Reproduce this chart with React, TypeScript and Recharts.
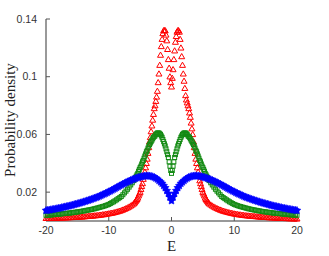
import React from 'react';
import { ScatterChart, Scatter, XAxis, YAxis, Label } from 'recharts';

const E_ABS = [
  0, 0.25, 0.5, 0.75, 1, 1.25, 1.5, 1.75, 2, 2.25, 2.5, 2.75, 3, 3.25, 3.5, 3.75,
  4, 4.25, 4.5, 4.75, 5, 5.25, 5.5, 5.75, 6, 6.25, 6.5, 6.75, 7, 7.25, 7.5, 7.75,
  8, 8.25, 8.5, 8.75, 9, 9.25, 9.5, 9.75, 10, 10.25, 10.5, 10.75, 11, 11.25, 11.5, 11.75,
  12, 12.25, 12.5, 12.75, 13, 13.25, 13.5, 13.75, 14, 14.25, 14.5, 14.75, 15, 15.25, 15.5, 15.75,
  16, 16.25, 16.5, 16.75, 17, 17.25, 17.5, 17.75, 18, 18.25, 18.5, 18.75, 19, 19.25, 19.5, 19.75, 20,
];

// extra samples between grid points where the peaks are dense
const E_MID = [
  0.125, 0.375, 0.625, 0.875, 1.125, 1.375, 1.625, 1.875, 2.125, 2.375, 2.625, 2.875,
  3.125, 3.375, 3.625, 3.875, 4.125, 4.375, 4.625, 4.875, 5.125, 5.375, 5.625, 5.875,
];

// red triangles, E >= 0
const RED_POS = [
  0.093, 0.105, 0.118, 0.128, 0.132, 0.131, 0.120, 0.108, 0.097, 0.087, 0.082, 0.078, 0.072, 0.064, 0.055, 0.047,
  0.040, 0.034, 0.028, 0.024, 0.020, 0.0175, 0.015, 0.0135, 0.012, 0.0112, 0.0105, 0.0098, 0.0092, 0.0087, 0.0082, 0.0077,
  0.0073, 0.0069, 0.0066, 0.0063, 0.0060, 0.0057, 0.0055, 0.0052, 0.0050, 0.0048, 0.0046, 0.0044, 0.0043, 0.0041, 0.0040, 0.0038,
  0.0037, 0.0036, 0.0035, 0.0034, 0.0033, 0.0032, 0.0031, 0.0030, 0.0029, 0.0028, 0.0027, 0.0027, 0.0026, 0.0025, 0.0024, 0.0024,
  0.0023, 0.0023, 0.0022, 0.0021, 0.0021, 0.0020, 0.0020, 0.0019, 0.0019, 0.0018, 0.0018, 0.0017, 0.0017, 0.0017, 0.0016, 0.0016, 0.0015,
];

// red triangles, E <= 0 (same |E| order)
const RED_NEG = [
  0.093, 0.100, 0.112, 0.125, 0.132, 0.132, 0.126, 0.115, 0.102, 0.090, 0.083, 0.078, 0.070, 0.062, 0.055, 0.047,
  0.040, 0.034, 0.029, 0.024, 0.020, 0.0175, 0.015, 0.0135, 0.012, 0.0112, 0.0105, 0.0098, 0.0092, 0.0087, 0.0082, 0.0077,
  0.0073, 0.0069, 0.0066, 0.0063, 0.0060, 0.0057, 0.0055, 0.0053, 0.0051, 0.0049, 0.0047, 0.0045, 0.0044, 0.0042, 0.0041, 0.0039,
  0.0038, 0.0037, 0.0036, 0.0035, 0.0034, 0.0033, 0.0032, 0.0031, 0.0030, 0.0029, 0.0029, 0.0028, 0.0027, 0.0027, 0.0026, 0.0025,
  0.0025, 0.0024, 0.0024, 0.0023, 0.0023, 0.0022, 0.0022, 0.0021, 0.0021, 0.0021, 0.0020, 0.0020, 0.0020, 0.0019, 0.0019, 0.0019, 0.0019,
];

const RED_MID_POS = [
  0.099, 0.112, 0.124, 0.131, 0.132, 0.126, 0.114, 0.102, 0.092, 0.084, 0.080, 0.075,
  0.068, 0.060, 0.051, 0.043, 0.037, 0.031, 0.026, 0.022, 0.0188, 0.016, 0.0142, 0.0127,
];
const RED_MID_NEG = [
  0.096, 0.106, 0.119, 0.129, 0.132, 0.130, 0.121, 0.108, 0.096, 0.086, 0.080, 0.074,
  0.066, 0.058, 0.051, 0.043, 0.037, 0.031, 0.026, 0.022, 0.0188, 0.016, 0.0142, 0.0127,
];

// green squares (symmetric)
const GREEN = [
  0.033, 0.038, 0.044, 0.048, 0.052, 0.055, 0.058, 0.060, 0.061, 0.061, 0.060, 0.0585, 0.057, 0.055, 0.053, 0.0505,
  0.048, 0.045, 0.042, 0.0395, 0.037, 0.0345, 0.032, 0.030, 0.028, 0.0265, 0.0250, 0.0235, 0.0220, 0.0207, 0.0195, 0.0182,
  0.0170, 0.0162, 0.0155, 0.0147, 0.0140, 0.0133, 0.0127, 0.0121, 0.0115, 0.0111, 0.0107, 0.0103, 0.0100, 0.0097, 0.0094, 0.0091,
  0.0088, 0.0085, 0.0083, 0.0080, 0.0078, 0.0076, 0.0074, 0.0072, 0.0070, 0.0068, 0.0066, 0.0064, 0.0063, 0.0061, 0.0060, 0.0058,
  0.0057, 0.0055, 0.0054, 0.0053, 0.0052, 0.0051, 0.0050, 0.0048, 0.0047, 0.0046, 0.0045, 0.0044, 0.0043, 0.0042, 0.0041, 0.0040, 0.0040,
];

const GREEN_MID = [
  0.035, 0.041, 0.046, 0.050, 0.0535, 0.0565, 0.059, 0.0605, 0.061, 0.0605, 0.059, 0.058,
  0.056, 0.054, 0.052, 0.049, 0.0465, 0.0435, 0.041, 0.038, 0.0358, 0.033, 0.031, 0.029,
];

// blue stars (symmetric)
const BLUE = [
  0.0140, 0.0165, 0.0190, 0.0210, 0.0230, 0.0245, 0.0260, 0.0270, 0.0280, 0.0290, 0.0297, 0.0303, 0.0307, 0.0310, 0.0312, 0.0313,
  0.0313, 0.0312, 0.0310, 0.0308, 0.0305, 0.0302, 0.0299, 0.0295, 0.0291, 0.0287, 0.0282, 0.0277, 0.0272, 0.0267, 0.0261, 0.0256,
  0.0250, 0.0244, 0.0238, 0.0232, 0.0226, 0.0220, 0.0214, 0.0208, 0.0203, 0.0197, 0.0192, 0.0187, 0.0182, 0.0177, 0.0172, 0.0167,
  0.0163, 0.0159, 0.0155, 0.0151, 0.0147, 0.0143, 0.0140, 0.0136, 0.0133, 0.0129, 0.0126, 0.0123, 0.0120, 0.0117, 0.0114, 0.0111,
  0.0108, 0.0105, 0.0103, 0.0100, 0.0098, 0.0095, 0.0093, 0.0090, 0.0088, 0.0086, 0.0084, 0.0082, 0.0080, 0.0078, 0.0076, 0.0074, 0.0073,
];

const X_TICKS = [-20, -10, 0, 10, 20];
const Y_TICKS = [0.02, 0.06, 0.1, 0.14];

const toPoints = (pos: number[], neg: number[]) => [
  ...E_ABS.slice(1).map((e, i) => ({ e: -e, p: neg[i + 1] })).reverse(),
  ...E_ABS.map((e, i) => ({ e, p: pos[i] })),
];
const midPoints = (pos: number[], neg: number[]) => [
  ...E_MID.map((e, i) => ({ e: -e, p: neg[i] })),
  ...E_MID.map((e, i) => ({ e, p: pos[i] })),
];

const redData = [...toPoints(RED_POS, RED_NEG), ...midPoints(RED_MID_POS, RED_MID_NEG)];
const greenData = [...toPoints(GREEN, GREEN), ...midPoints(GREEN_MID, GREEN_MID)];
const blueData = toPoints(BLUE, BLUE);

const tickFont = { fontFamily: '"Liberation Sans", Arial, sans-serif', fontSize: 10.5, fill: '#333' };
const labelFont = '"Liberation Serif", "Times New Roman", serif';

const Triangle = ({ cx, cy }: any) => (
  <path d={`M${cx},${cy - 3}L${cx + 3},${cy + 2.2}L${cx - 3},${cy + 2.2}Z`} fill="none" stroke="#ff0000" strokeWidth={1} />
);

const Square = ({ cx, cy }: any) => (
  <rect x={cx - 2} y={cy - 2} width={4} height={4} fill="none" stroke="#138a13" strokeWidth={1} />
);

const Star = ({ cx, cy }: any) => {
  const pts: string[] = [];
  for (let k = 0; k < 10; k++) {
    const r = k % 2 === 0 ? 4 : 2.1;
    const a = -Math.PI / 2 + (k * Math.PI) / 5;
    pts.push(`${cx + r * Math.cos(a)},${cy + r * Math.sin(a)}`);
  }
  return <polygon points={pts.join(' ')} fill="#0000ff" stroke="#0000ff" strokeWidth={0.6} />;
};

const Nothing = () => <g />;

export default function App() {
  return (
    <div style={{ position: 'absolute', left: 0, top: 0, background: '#fff' }}>
      <ScatterChart width={329} height={256} margin={{ top: 19, right: 32, bottom: 0, left: 6 }}>
        <XAxis
          dataKey="e"
          type="number"
          domain={[-20, 20]}
          ticks={X_TICKS}
          height={35}
          tickSize={-4}
          tickMargin={10}
          tick={tickFont}
          axisLine={{ stroke: '#999', strokeWidth: 2 }}
          tickLine={{ stroke: '#555' }}
        >
          <Label
            content={({ viewBox }: any) => (
              <text x={viewBox.x + viewBox.width / 2} y={251} textAnchor="middle" fontFamily={labelFont} fontSize={15} fill="#222">
                E
              </text>
            )}
          />
        </XAxis>
        <XAxis
          xAxisId="top"
          dataKey="e"
          orientation="top"
          type="number"
          domain={[-20, 20]}
          ticks={X_TICKS}
          height={0}
          tickSize={-4}
          tick={false}
          axisLine={{ stroke: '#555' }}
          tickLine={{ stroke: '#555' }}
        />
        <YAxis
          dataKey="p"
          type="number"
          domain={[0, 0.14]}
          ticks={Y_TICKS}
          width={40}
          tickSize={-4}
          tickMargin={13}
          tick={tickFont}
          axisLine={{ stroke: '#999', strokeWidth: 2 }}
          tickLine={{ stroke: '#555' }}
        >
          <Label
            content={({ viewBox }: any) => {
              const cx = 10;
              const cy = viewBox.y + viewBox.height / 2;
              return (
                <text
                  x={cx}
                  y={cy}
                  transform={`rotate(-90 ${cx} ${cy})`}
                  textAnchor="middle"
                  dominantBaseline="central"
                  fontFamily={labelFont}
                  fontSize={15}
                  fill="#222"
                >
                  Probability density
                </text>
              );
            }}
          />
        </YAxis>
        <YAxis
          yAxisId="right"
          dataKey="p"
          orientation="right"
          type="number"
          domain={[0, 0.14]}
          ticks={Y_TICKS}
          width={0}
          tickSize={-4}
          tick={false}
          axisLine={{ stroke: '#555' }}
          tickLine={{ stroke: '#555' }}
        />
        <Scatter xAxisId="top" yAxisId="right" data={blueData} shape={<Nothing />} isAnimationActive={false} />
        <Scatter data={redData} shape={<Triangle />} isAnimationActive={false} />
        <Scatter data={greenData} shape={<Square />} isAnimationActive={false} />
        <Scatter data={blueData} shape={<Star />} isAnimationActive={false} />
      </ScatterChart>
    </div>
  );
}
